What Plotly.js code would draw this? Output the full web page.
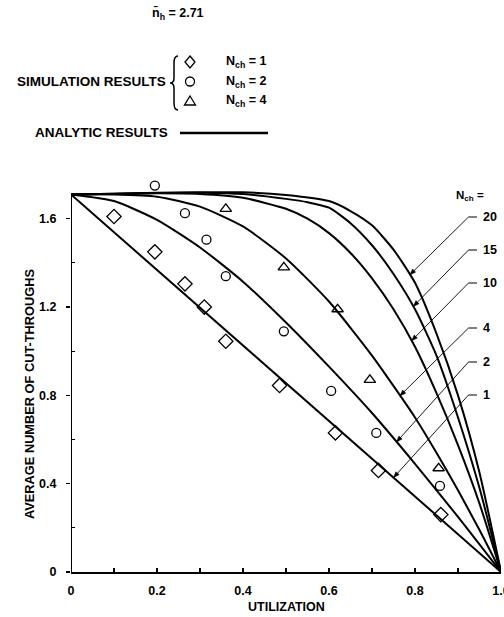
<!DOCTYPE html>
<html><head><meta charset="utf-8">
<script src="https://cdn.plot.ly/plotly-3.0.1.min.js"></script>
<style>html,body{margin:0;padding:0;background:#fff;}#chart{width:504px;height:617px;}</style>
</head><body><div id="chart"></div>
<script>
// ---- analytic results ----
const xCurve1 = [0, 1.0];
const yCurve1 = [1.71, 0];
const xCurve2 = [0, 0.1, 0.2, 0.3, 0.4, 0.5, 0.6, 0.7, 0.8, 0.9, 1.0];
const yCurve2 = [1.71, 1.68, 1.595, 1.47, 1.315, 1.13, 0.93, 0.72, 0.49, 0.25, 0];
const xCurve4 = [0, 0.1, 0.2, 0.3, 0.4, 0.5, 0.6, 0.7, 0.8, 0.85, 0.9, 0.95, 1.0];
const yCurve4 = [1.71, 1.71, 1.70, 1.655, 1.565, 1.42, 1.225, 0.98, 0.70, 0.54, 0.37, 0.19, 0];
const xCurve10 = [0, 0.1, 0.2, 0.3, 0.4, 0.5, 0.55, 0.6, 0.65, 0.7, 0.75, 0.8, 0.85, 0.9, 0.95, 1.0];
const yCurve10 = [1.71, 1.712, 1.715, 1.712, 1.695, 1.645, 1.60, 1.535, 1.445, 1.33, 1.19, 1.02, 0.81, 0.575, 0.31, 0];
const xCurve15 = [0, 0.1, 0.2, 0.3, 0.4, 0.5, 0.55, 0.6, 0.65, 0.7, 0.75, 0.8, 0.85, 0.9, 0.95, 1.0];
const yCurve15 = [1.71, 1.713, 1.717, 1.718, 1.712, 1.69, 1.675, 1.65, 1.58, 1.48, 1.35, 1.19, 0.98, 0.70, 0.38, 0];
const xCurve20 = [0, 0.1, 0.2, 0.3, 0.4, 0.5, 0.6, 0.65, 0.7, 0.75, 0.8, 0.85, 0.9, 0.95, 1.0];
const yCurve20 = [1.71, 1.713, 1.718, 1.72, 1.72, 1.708, 1.68, 1.635, 1.57, 1.46, 1.31, 1.08, 0.80, 0.45, 0];

// ---- simulation results ----
const xSim1 = [0.10, 0.195, 0.265, 0.31, 0.36, 0.485, 0.615, 0.715, 0.86];
const ySim1 = [1.61, 1.45, 1.305, 1.20, 1.045, 0.845, 0.63, 0.46, 0.26];
const xSim2 = [0.195, 0.265, 0.315, 0.36, 0.495, 0.605, 0.71, 0.858];
const ySim2 = [1.75, 1.625, 1.505, 1.34, 1.09, 0.82, 0.63, 0.39];
const xSim4 = [0.36, 0.495, 0.62, 0.695, 0.855];
const ySim4 = [1.645, 1.38, 1.19, 0.87, 0.47];

// ---- labels ----
const curveLabels = ['20', '15', '10', '4', '2', '1'];
const pointerX = [0.788, 0.796, 0.792, 0.765, 0.757, 0.75];
const simLabels = ['N<sub>ch</sub> = 1', 'N<sub>ch</sub> = 2', 'N<sub>ch</sub> = 4'];
const xTickVals = [0, 0.2, 0.4, 0.6, 0.8, 1.0];
const xTickText = ['0', '0.2', '0.4', '0.6', '0.8', '1.0'];
const yTickVals = [0, 0.4, 0.8, 1.2, 1.6];
const yTickText = ['0', '0.4', '0.8', '1.2', '1.6'];

const curves = {
  '20': [xCurve20, yCurve20], '15': [xCurve15, yCurve15], '10': [xCurve10, yCurve10],
  '4': [xCurve4, yCurve4], '2': [xCurve2, yCurve2], '1': [xCurve1, yCurve1]
};

function interp(xs, ys, x) {
  for (let i = 0; i < xs.length - 1; i++) {
    if (x >= xs[i] && x <= xs[i + 1]) {
      const t = (x - xs[i]) / (xs[i + 1] - xs[i]);
      return ys[i] + t * (ys[i + 1] - ys[i]);
    }
  }
  return ys[ys.length - 1];
}

const FONT = 'Liberation Sans, Arial, Helvetica, sans-serif';
const L = 71, T = 179, W = 430, H = 393, YMAX = 1.78;
const px2x = px => (px - L) / W;
const py2y = py => (T + H - py) / H;
const x2px = x => L + x * W;
const d2py = y => T + H - y / YMAX * H;

const traces = [];
['1', '2', '4', '10', '15', '20'].forEach(k => {
  traces.push({
    x: curves[k][0], y: curves[k][1], type: 'scatter', mode: 'lines',
    line: {color: '#000', width: 2, shape: 'spline', smoothing: 0.6},
    showlegend: false, hoverinfo: 'skip'
  });
});
traces.push({x: xSim1, y: ySim1, type: 'scatter', mode: 'markers',
  marker: {symbol: 'diamond-open', size: 11, color: '#000', line: {width: 1.3, color: '#000'}},
  cliponaxis: false, showlegend: false});
traces.push({x: xSim2, y: ySim2, type: 'scatter', mode: 'markers',
  marker: {symbol: 'circle-open', size: 9, color: '#000', line: {width: 1.3, color: '#000'}},
  cliponaxis: false, showlegend: false});
traces.push({x: xSim4, y: ySim4, type: 'scatter', mode: 'markers',
  marker: {symbol: 'triangle-up-open', size: 10, color: '#000', line: {width: 1.3, color: '#000'}},
  cliponaxis: false, showlegend: false});

const txtFont = (s) => ({family: FONT, size: s, color: '#000', weight: 700});

const annotations = [];
const shapes = [];

// header
annotations.push({xref: 'paper', yref: 'paper', x: px2x(178), y: py2y(14), text: 'n\u0304<sub>h</sub> = 2.71',
  showarrow: false, font: txtFont(12.5), xanchor: 'center', yanchor: 'middle'});
// legend block
annotations.push({xref: 'paper', yref: 'paper', x: px2x(168), y: py2y(81), text: 'SIMULATION RESULTS',
  showarrow: false, font: txtFont(13.5), xanchor: 'right', yanchor: 'middle'});
[62, 81.5, 101].forEach((py, i) => {
  annotations.push({xref: 'paper', yref: 'paper', x: px2x(224), y: py2y(py), text: simLabels[i],
    showarrow: false, font: txtFont(12.5), xanchor: 'left', yanchor: 'middle'});
});
annotations.push({xref: 'paper', yref: 'paper', x: px2x(170), y: py2y(133), text: 'ANALYTIC RESULTS',
  showarrow: false, font: txtFont(13.5), xanchor: 'right', yanchor: 'middle'});
// axis titles
annotations.push({xref: 'paper', yref: 'paper', x: px2x(29), y: py2y(394), text: 'AVERAGE NUMBER OF CUT-THROUGHS',
  textangle: -90, showarrow: false, font: txtFont(12.8), xanchor: 'center', yanchor: 'middle'});
annotations.push({xref: 'paper', yref: 'paper', x: px2x(286), y: py2y(607), text: 'UTILIZATION',
  showarrow: false, font: txtFont(12.5), xanchor: 'center', yanchor: 'middle'});
// N_ch = header on the right
annotations.push({xref: 'paper', yref: 'paper', x: px2x(470), y: py2y(196), text: 'N<sub>ch</sub> =',
  showarrow: false, font: txtFont(11.5), xanchor: 'center', yanchor: 'middle'});

// curve labels with pointer lines and arrowheads
const labelPy = [217, 250, 283, 328, 362, 395];
const tailPx = 468.5;
curveLabels.forEach((lab, i) => {
  annotations.push({xref: 'paper', yref: 'paper', x: px2x(481), y: py2y(labelPy[i]), text: lab,
    showarrow: false, font: txtFont(12.5), xanchor: 'left', yanchor: 'middle'});
  const c = curves[lab];
  const tipX = pointerX[i];
  const tipY = interp(c[0], c[1], tipX);
  const tipPx = x2px(tipX), tipPy = d2py(tipY);
  const ty = labelPy[i];
  // horizontal dash at the label
  shapes.push({type: 'line', xref: 'paper', yref: 'paper', x0: px2x(tailPx), x1: px2x(477),
    y0: py2y(ty), y1: py2y(ty), line: {color: '#000', width: 1}});
  // diagonal pointer
  shapes.push({type: 'line', xref: 'paper', yref: 'paper', x0: px2x(tailPx), y0: py2y(ty),
    x1: px2x(tipPx), y1: py2y(tipPy), line: {color: '#000', width: 0.9}});
  // arrowhead (pixel path, y up)
  let dx = tipPx - tailPx, dy = -(tipPy - ty);
  const len = Math.hypot(dx, dy); dx /= len; dy /= len;
  const hl = 6, hw = 2.2;
  const bx = -dx * hl, by = -dy * hl;
  const p1x = bx - dy * hw, p1y = by + dx * hw;
  const p2x = bx + dy * hw, p2y = by - dx * hw;
  shapes.push({type: 'path', xref: 'paper', yref: 'paper', xsizemode: 'pixel', ysizemode: 'pixel',
    xanchor: px2x(tipPx), yanchor: py2y(tipPy),
    path: `M0,0L${p1x.toFixed(2)},${p1y.toFixed(2)}L${p2x.toFixed(2)},${p2y.toFixed(2)}Z`,
    fillcolor: '#000', line: {color: '#000', width: 0.5}});
});

// legend key shapes
const keyX = px2x(190);
shapes.push({type: 'path', xref: 'paper', yref: 'paper', xsizemode: 'pixel', ysizemode: 'pixel',
  xanchor: keyX, yanchor: py2y(62), path: 'M0,6L5,0L0,-6L-5,0Z', line: {color: '#000', width: 1.3}});
shapes.push({type: 'circle', xref: 'paper', yref: 'paper', xsizemode: 'pixel', ysizemode: 'pixel',
  xanchor: keyX, yanchor: py2y(81.5), x0: -4.5, x1: 4.5, y0: -4.5, y1: 4.5, line: {color: '#000', width: 1.3}});
shapes.push({type: 'path', xref: 'paper', yref: 'paper', xsizemode: 'pixel', ysizemode: 'pixel',
  xanchor: keyX, yanchor: py2y(101), path: 'M0,5L5.5,-4L-5.5,-4Z', line: {color: '#000', width: 1.3}});
// brace
shapes.push({type: 'path', xref: 'paper', yref: 'paper', xsizemode: 'pixel', ysizemode: 'pixel',
  xanchor: px2x(175), yanchor: py2y(83),
  path: 'M3,27 Q-1,27 -1,20 L-1,5 Q-1,0 -5,0 Q-1,0 -1,-5 L-1,-20 Q-1,-27 3,-27',
  line: {color: '#000', width: 1.5}});
// analytic key line
shapes.push({type: 'line', xref: 'paper', yref: 'paper', x0: px2x(180), x1: px2x(268),
  y0: py2y(133), y1: py2y(133), line: {color: '#000', width: 2.5}});
// y axis line (stops at the top of the scale)
shapes.push({type: 'line', xref: 'x', yref: 'y', x0: 0, x1: 0, y0: 0, y1: 1.705,
  line: {color: '#000', width: 2}});

const layout = {
  width: 504, height: 617,
  margin: {l: L, r: 504 - L - W, t: T, b: 617 - T - H, pad: 0},
  paper_bgcolor: '#fff', plot_bgcolor: '#fff',
  font: {family: FONT, size: 12, color: '#000', weight: 700},
  showlegend: false,
  xaxis: {
    range: [0, 1], tickmode: 'array', tickvals: xTickVals, ticktext: xTickText,
    ticks: 'inside', ticklen: 4, tickwidth: 1.2, tickcolor: '#000',
    showline: true, linewidth: 2, linecolor: '#000', showgrid: false, zeroline: false,
    tickfont: txtFont(12.5), ticklabelstandoff: 6, ticklabeloverflow: 'allow',
    minor: {tickvals: [0.1, 0.3, 0.5, 0.7, 0.9], ticks: 'inside', ticklen: 4, tickwidth: 1.2, tickcolor: '#000', showgrid: false}
  },
  yaxis: {
    range: [0, YMAX], tickmode: 'array', tickvals: yTickVals, ticktext: yTickText,
    ticks: 'outside', ticklen: 4, tickwidth: 1.2, tickcolor: '#000',
    showline: false, showgrid: false, zeroline: false,
    tickfont: txtFont(12.5), ticklabelstandoff: 7,
    minor: {tickvals: [0.2, 0.6, 1.0, 1.4], ticks: 'inside', ticklen: 4, tickwidth: 1.2, tickcolor: '#000', showgrid: false}
  },
  annotations: annotations,
  shapes: shapes
};

Plotly.newPlot('chart', traces, layout, {staticPlot: true, displayModeBar: false});
</script>
</body></html>
